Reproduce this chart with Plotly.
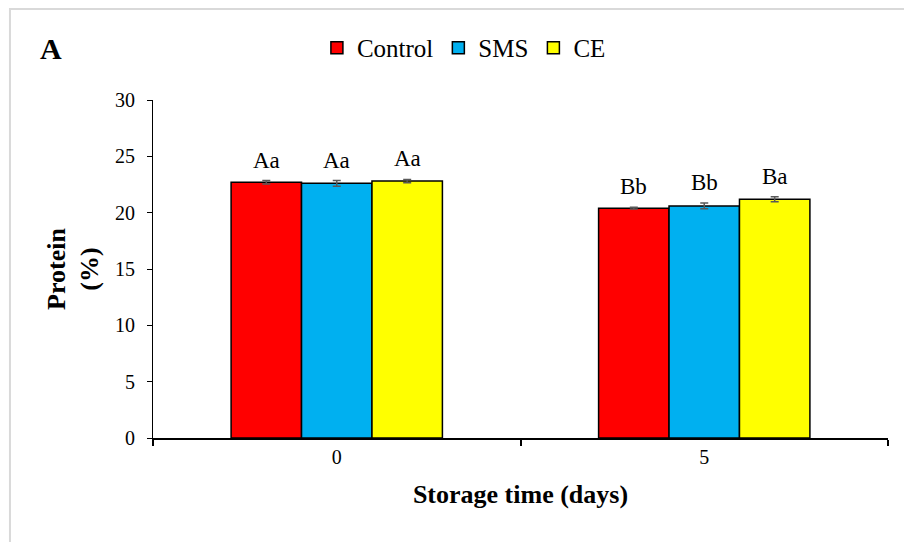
import plotly.graph_objects as go

# Protein content (%) by storage time and treatment
days = ["0", "5"]
series = ["Control", "SMS", "CE"]
colors = ["#FF0000", "#00B0F0", "#FFFF00"]
protein = {
    "Control": [22.7, 20.4],
    "SMS": [22.6, 20.6],
    "CE": [22.8, 21.2],
}
errors = {
    "Control": [0.15, 0.08],
    "SMS": [0.25, 0.25],
    "CE": [0.15, 0.22],
}
letters = {
    "Control": ["Aa", "Bb"],
    "SMS": ["Aa", "Bb"],
    "CE": ["Aa", "Ba"],
}

FONT = "Times New Roman, Liberation Serif, serif"
bargap = 0.425
xpos = list(range(len(days)))
bar_w = (1 - bargap) / len(series)

fig = go.Figure()
for j, s in enumerate(series):
    fig.add_trace(go.Bar(
        name=s, x=xpos, y=protein[s],
        marker=dict(color=colors[j], line=dict(color="black", width=1.5)),
        error_y=dict(type="data", array=errors[s], color="#595959",
                     thickness=1.5, width=4),
    ))
    # significance letters above each bar
    for i in xpos:
        fig.add_annotation(
            x=i + (j - 1) * bar_w, y=protein[s][i] + errors[s][i],
            text=letters[s][i], showarrow=False, yanchor="bottom", yshift=6,
            font=dict(family=FONT, size=23, color="black"),
        )

fig.add_annotation(
    xref="paper", yref="paper", x=-0.139, y=1.152,
    xanchor="center", yanchor="middle", text="<b>A</b>",
    showarrow=False, font=dict(family=FONT, size=30, color="black"),
)

# light frame around the chart area
fig.add_shape(
    type="rect", xref="paper", yref="paper",
    x0=-0.1946, x1=1.2, y0=-0.6, y1=1.269,
    line=dict(color="#d9d9d9", width=2), layer="below",
)

fig.update_layout(
    template="none",
    width=904, height=542,
    margin=dict(l=153, r=16, t=100, b=104),
    paper_bgcolor="white", plot_bgcolor="white",
    barmode="group", bargap=bargap, bargroupgap=0,
    font=dict(family=FONT, color="black"),
    showlegend=True,
    legend=dict(
        orientation="h", x=0.423, y=1.154, xanchor="center", yanchor="middle",
        font=dict(family=FONT, size=25, color="black"),
        itemwidth=30, traceorder="normal",
    ),
    xaxis=dict(
        range=[-0.5, 1.5], tickvals=xpos, ticktext=days,
        ticks="", showline=True, linecolor="black", linewidth=1.5,
        showgrid=False, zeroline=False,
        tickfont=dict(family=FONT, size=20, color="black"),
        minor=dict(tick0=-0.5, dtick=1, ticks="outside", ticklen=6,
                   tickcolor="black", tickwidth=1.5, showgrid=False),
        title=dict(text="<b>Storage time (days)</b>", standoff=18,
                   font=dict(family=FONT, size=26, color="black")),
    ),
    yaxis=dict(
        range=[0, 30], dtick=5, ticks="outside", ticklen=5,
        tickcolor="black", tickwidth=1, showline=True, linecolor="black",
        linewidth=1, showgrid=False, zeroline=False, ticklabelstandoff=8,
        tickfont=dict(family=FONT, size=20, color="black"),
        title=dict(text="<b>Protein<br>(%)</b>", standoff=8,
                   font=dict(family=FONT, size=26, color="black")),
    ),
)

fig.write_html("out.html")
